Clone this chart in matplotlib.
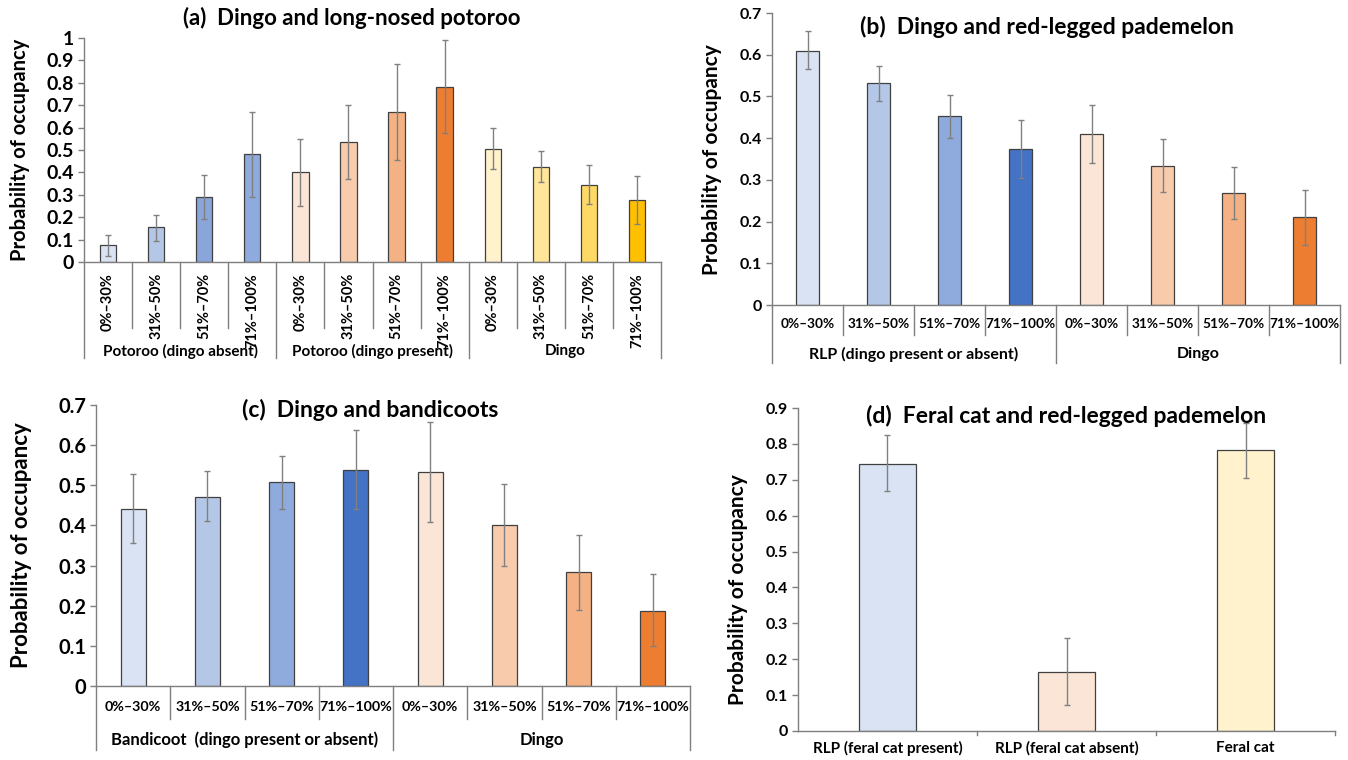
import matplotlib
matplotlib.use("Agg")
import matplotlib.pyplot as plt
import matplotlib.transforms as mtransforms
from matplotlib.ticker import FuncFormatter

plt.rcParams['font.family'] = ['Lato', 'DejaVu Sans']
plt.rcParams['font.weight'] = 'bold'

W, H = 1348, 760

# ---------------- data ----------------
bins = ["0%\u201330%", "31%\u201350%", "51%\u201370%", "71%\u2013100%"]

# (a) Dingo and long-nosed potoroo
a_groups = ["Potoroo (dingo absent)", "Potoroo (dingo present)", "Dingo"]
a_vals = [0.075, 0.155, 0.29, 0.48, 0.40, 0.535, 0.67, 0.78, 0.505, 0.425, 0.345, 0.275]
a_low = [0.025, 0.095, 0.19, 0.29, 0.25, 0.37, 0.455, 0.575, 0.415, 0.355, 0.26, 0.17]
a_high = [0.12, 0.21, 0.39, 0.67, 0.55, 0.70, 0.885, 0.99, 0.60, 0.495, 0.435, 0.385]

# (b) Dingo and red-legged pademelon
b_groups = ["RLP (dingo present or absent)", "Dingo"]
b_vals = [0.61, 0.532, 0.452, 0.375, 0.41, 0.334, 0.268, 0.21]
b_low = [0.565, 0.49, 0.40, 0.305, 0.34, 0.27, 0.205, 0.145]
b_high = [0.656, 0.573, 0.504, 0.443, 0.479, 0.398, 0.331, 0.275]

# (c) Dingo and bandicoots
c_groups = ["Bandicoot  (dingo present or absent)", "Dingo"]
c_vals = [0.44, 0.472, 0.507, 0.539, 0.532, 0.401, 0.283, 0.188]
c_low = [0.355, 0.41, 0.44, 0.44, 0.408, 0.30, 0.19, 0.10]
c_high = [0.527, 0.536, 0.574, 0.638, 0.657, 0.504, 0.376, 0.278]

# (d) Feral cat and red-legged pademelon
d_cats = ["RLP (feral cat present)", "RLP (feral cat absent)", "Feral cat"]
d_vals = [0.745, 0.165, 0.782]
d_low = [0.668, 0.073, 0.705]
d_high = [0.825, 0.258, 0.858]

blues = ["#DAE3F3", "#B4C7E7", "#8FAADC", "#4472C4"]
blues_a = ["#DAE3F3", "#B4C7E7", "#8AA5DA", "#8FAADC"]
oranges = ["#FBE5D6", "#F8CBAD", "#F4B183", "#ED7D31"]
yellows = ["#FFF2CC", "#FFE699", "#FFD966", "#FFC000"]
d_colors = ["#DAE3F3", "#FBE5D6", "#FFF2CC"]

fig = plt.figure(figsize=(W / 100, H / 100), dpi=100)


def fmt(v, pos):
    s = f"{v:.1f}"
    if s.endswith(".0"):
        s = s[:-2]
    return s


def make_axes(x0, x1, yzero, ytop, ymax):
    ax = fig.add_axes([x0 / W, 1 - yzero / H, (x1 - x0) / W, (yzero - ytop) / H])
    ax.set_ylim(0, ymax)
    for s in ["top", "right"]:
        ax.spines[s].set_visible(False)
    for s in ["left", "bottom"]:
        ax.spines[s].set_color("#7f7f7f")
        ax.spines[s].set_linewidth(1.0)
    ax.yaxis.set_major_formatter(FuncFormatter(fmt))
    ax.tick_params(axis="y", color="#7f7f7f", length=4, width=1, pad=3)
    return ax, (yzero - ytop)


def draw_bars(ax, vals, low, high, colors, bw):
    n = len(vals)
    xs = [i + 0.5 for i in range(n)]
    yerr = [[v - l for v, l in zip(vals, low)], [h - v for v, h in zip(vals, high)]]
    ax.bar(xs, vals, width=bw, color=colors, edgecolor="#404040", linewidth=0.9, zorder=2)
    ax.errorbar(xs, vals, yerr=yerr, fmt="none", ecolor="#808080", elinewidth=1.0,
                capsize=2.2, capthick=1.0, zorder=3)
    ax.set_xlim(0, n)
    return xs


def separators(ax, hpx, positions, depth_px):
    tr = mtransforms.blended_transform_factory(ax.transData, ax.transAxes)
    for p in positions:
        ax.plot([p, p], [0, -depth_px / hpx], color="#7f7f7f", lw=1.0,
                transform=tr, clip_on=False)


def group_labels(ax, hpx, groups, size, ypx, fs):
    tr = mtransforms.blended_transform_factory(ax.transData, ax.transAxes)
    for g, name in enumerate(groups):
        ax.text(g * size + size / 2, -ypx / hpx, name, transform=tr, ha="center",
                va="center", fontsize=fs, fontweight="bold")


def ylabel(xpx, ypx, fs):
    fig.text(xpx / W, 1 - ypx / H, "Probability of occupancy", rotation=90,
             ha="center", va="center", fontsize=fs, fontweight="bold")


def title(xpx, ypx, txt, fs=16):
    fig.text(xpx / W, 1 - ypx / H, txt, ha="center", va="center", fontsize=fs,
             fontweight="bold")


# ---------------- panel (a) ----------------
ax, hpx = make_axes(84, 661, 262, 38, 1.0)
xs = draw_bars(ax, a_vals, a_low, a_high, blues_a + oranges + yellows, 0.34)
ax.set_yticks([i / 10 for i in range(11)])
ax.tick_params(axis="y", labelsize=14)
ax.set_xticks(xs)
ax.set_xticklabels(bins * 3, rotation=90, fontsize=10.5, fontweight="bold")
ax.tick_params(axis="x", length=0, pad=8)
for lab in ax.get_xticklabels():
    lab.set_va("top")
separators(ax, hpx, [1, 2, 3, 5, 6, 7, 9, 10, 11], 66)
separators(ax, hpx, [0, 4, 8, 12], 96)
group_labels(ax, hpx, a_groups, 4, 89, 11)
ylabel(20, 150, 14.5)
title(352, 18, "(a)  Dingo and long-nosed potoroo")

# ---------------- panel (b) ----------------
ax, hpx = make_axes(772, 1340, 305, 13, 0.7)
xs = draw_bars(ax, b_vals, b_low, b_high, blues + oranges, 0.31)
ax.set_yticks([i / 10 for i in range(8)])
ax.tick_params(axis="y", labelsize=11.5)
ax.set_xticks(xs)
ax.set_xticklabels(bins * 2, fontsize=9.8, fontweight="bold")
ax.tick_params(axis="x", length=0, pad=9)
separators(ax, hpx, [1, 2, 3, 5, 6, 7], 30)
separators(ax, hpx, [0, 4, 8], 58)
group_labels(ax, hpx, b_groups, 4, 49, 11.5)
ylabel(712, 160, 15)
title(1047, 27, "(b)  Dingo and red-legged pademelon", 16.5)

# ---------------- panel (c) ----------------
ax, hpx = make_axes(96, 690, 686, 405, 0.7)
xs = draw_bars(ax, c_vals, c_low, c_high, blues + oranges, 0.34)
ax.set_yticks([i / 10 for i in range(8)])
ax.tick_params(axis="y", labelsize=14.5)
ax.set_xticks(xs)
ax.set_xticklabels(bins * 2, fontsize=10.3, fontweight="bold")
ax.tick_params(axis="x", length=0, pad=11)
separators(ax, hpx, [1, 2, 3, 5, 6, 7], 33)
separators(ax, hpx, [0, 4, 8], 64)
group_labels(ax, hpx, c_groups, 4, 54, 12)
ylabel(22, 545, 16)
title(370, 410, "(c)  Dingo and bandicoots", 16.5)

# ---------------- panel (d) ----------------
ax, hpx = make_axes(798, 1335, 731, 408, 0.9)
xs = draw_bars(ax, d_vals, d_low, d_high, d_colors, 0.32)
ax.set_yticks([i / 10 for i in range(10)])
ax.tick_params(axis="y", labelsize=11.5)
ax.set_xticks(xs)
ax.set_xticklabels(d_cats, fontsize=11, fontweight="bold")
ax.tick_params(axis="x", length=0, pad=7)
separators(ax, hpx, [1, 2, 3], 4)
ylabel(738, 590, 15)
title(1066, 416, "(d)  Feral cat and red-legged pademelon", 16.5)

fig.savefig("out.png", dpi=100, facecolor="white")
